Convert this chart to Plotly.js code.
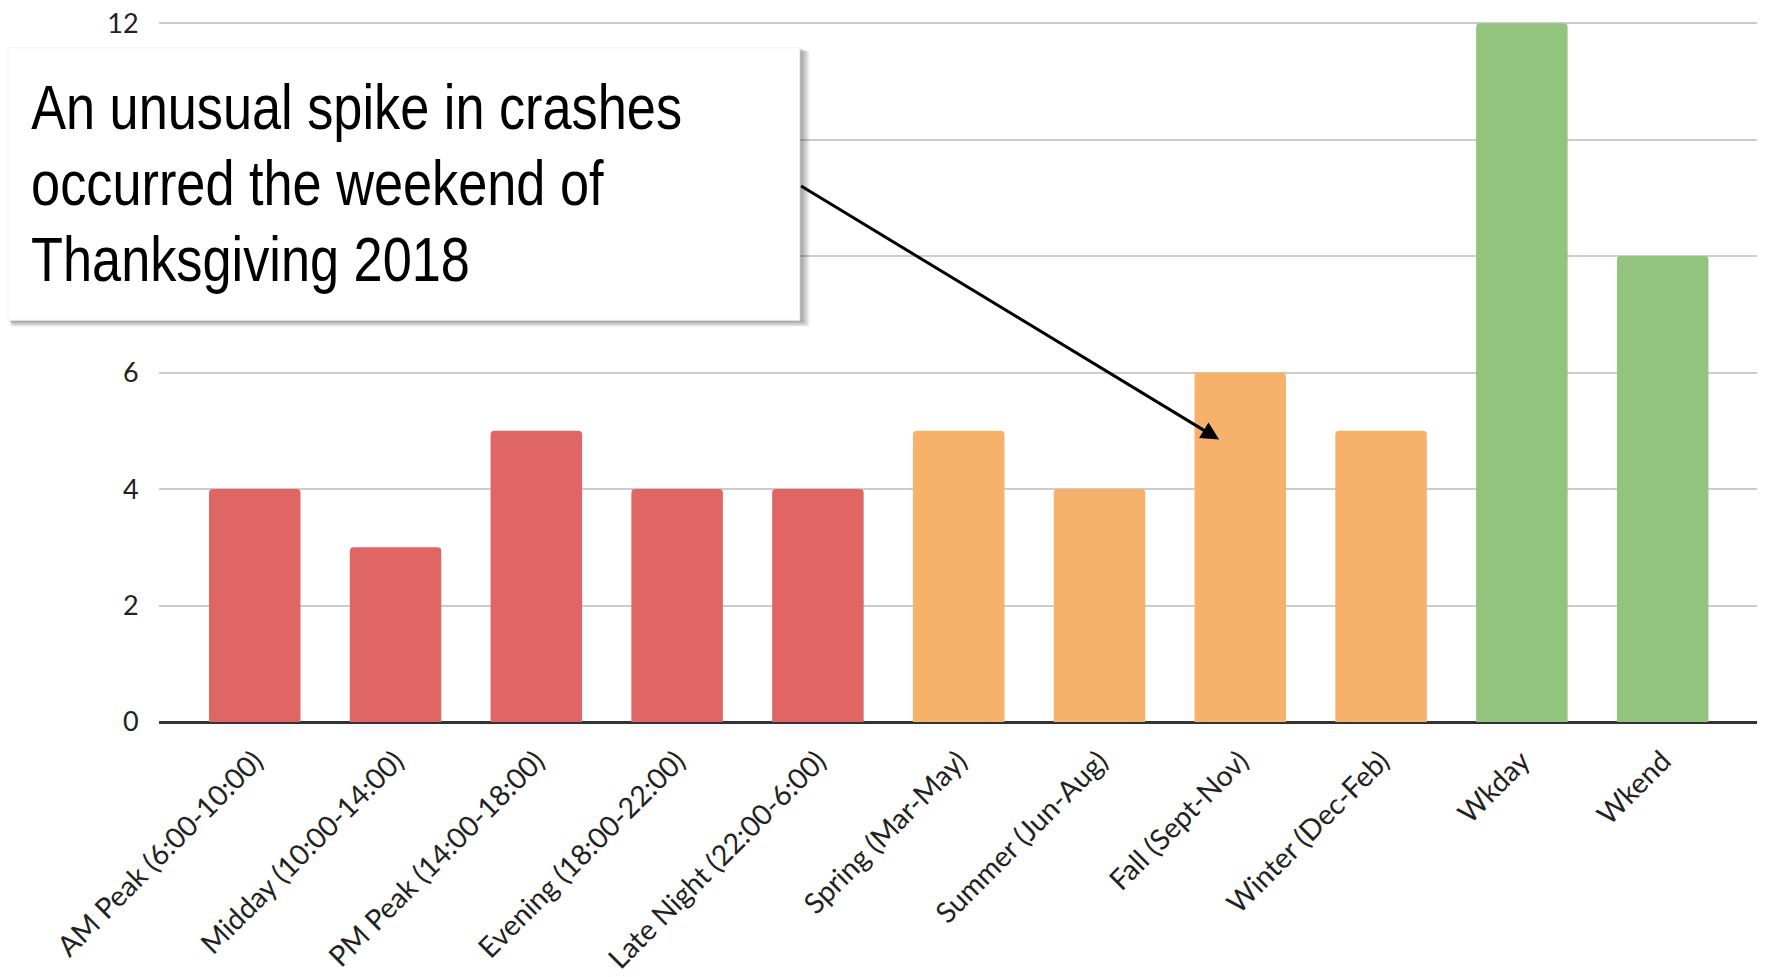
<!DOCTYPE html>
<html>
<head>
<meta charset="utf-8">
<script src="https://cdn.plot.ly/plotly-3.0.1.min.js"></script>
<style>
html,body{margin:0;padding:0;background:#fff;}
#chart{width:1766px;height:977px;}
</style>
</head>
<body>
<div id="chart"></div>
<script>
const categories = [
  "AM Peak (6:00-10:00)", "Midday (10:00-14:00)", "PM Peak (14:00-18:00)",
  "Evening (18:00-22:00)", "Late Night (22:00-6:00)",
  "Spring (Mar-May)", "Summer (Jun-Aug)", "Fall (Sept-Nov)", "Winter (Dec-Feb)",
  "Wkday", "Wkend"
];
const crashes = [4, 3, 5, 4, 4, 5, 4, 6, 5, 12, 8];
const groups = ["time","time","time","time","time","season","season","season","season","week","week"];
const groupColors = {time: "#E06666", season: "#F6B26B", week: "#93C47D"};
const yTicks = [0, 2, 4, 6, 8, 10, 12];
const noteLines = ["An unusual spike in crashes", "occurred the weekend of", "Thanksgiving 2018"];

const trace = {
  type: "bar",
  x: categories,
  y: crashes,
  marker: {color: groups.map(g => groupColors[g]), cornerradius: 4, line: {width: 0}},
  hoverinfo: "x+y"
};

const yTickFont = {family: "Lato, Open Sans, sans-serif", size: 27, color: "#222"};
const xTickFont = {family: "Lato, Open Sans, sans-serif", size: 28.5, color: "#222"};
const noteFont = {family: "Liberation Sans, Arial, sans-serif", size: 63, color: "#000"};

const box = {x0: -0.0945, x1: 0.401, y0: 0.574, y1: 0.963};
const shapes = [];
// soft shadow
for (let i = 1; i <= 6; i++) {
  shapes.push({type: "rect", xref: "paper", yref: "paper", layer: "above",
    x0: box.x0 + 0.0004 * i, x1: box.x1 + 0.001 * i,
    y0: box.y0 - 0.0015 * i, y1: box.y1 - 0.0008 * i,
    fillcolor: "rgba(0,0,0,0.07)", line: {width: 0}});
}
shapes.push({type: "rect", xref: "paper", yref: "paper", layer: "above",
  x0: box.x0, x1: box.x1, y0: box.y0, y1: box.y1,
  fillcolor: "#ffffff", line: {width: 1, color: "#f2f2f2"}});

const annotations = noteLines.map((t, i) => ({
  xref: "paper", yref: "paper", x: -0.0815, y: 0.878 - i * 0.108,
  xanchor: "left", yanchor: "middle", text: t, showarrow: false, font: noteFont
}));
annotations.push({
  xref: "x", yref: "y", axref: "x", ayref: "y",
  x: 6.85, y: 4.85, ax: 3.87, ay: 9.22,
  text: "", showarrow: true, arrowhead: 2, arrowsize: 1.2, arrowwidth: 3, arrowcolor: "#000"
});

const layout = {
  width: 1766, height: 977,
  margin: {l: 159, r: 9, t: 22, b: 255},
  paper_bgcolor: "#fff", plot_bgcolor: "#fff",
  showlegend: false,
  bargap: 0.35,
  xaxis: {
    range: [-0.68, 10.67], tickangle: -45, tickfont: xTickFont,
    showgrid: false, zeroline: false, showline: false,
    ticks: "outside", ticklen: 10, tickcolor: "rgba(0,0,0,0)", fixedrange: true
  },
  yaxis: {
    range: [0, 12.02], tickvals: yTicks, tickfont: yTickFont,
    showgrid: true, gridcolor: "#cccccc", gridwidth: 2,
    zeroline: true, zerolinecolor: "#333333", zerolinewidth: 3,
    showline: false, ticks: "outside", ticklen: 14, tickcolor: "rgba(0,0,0,0)", fixedrange: true
  },
  shapes: shapes,
  annotations: annotations
};

Plotly.newPlot("chart", [trace], layout, {displayModeBar: false, staticPlot: true}).then(gd => {
  // condense the note text to mimic the narrow typeface of the original
  const texts = gd.querySelectorAll(".annotation-text");
  for (let i = 0; i < noteLines.length && i < texts.length; i++) {
    const t = texts[i];
    t.style.transformBox = "fill-box";
    t.style.transformOrigin = "0% 50%";
    t.style.transform = "scaleX(0.83)";
  }
});
</script>
</body>
</html>
